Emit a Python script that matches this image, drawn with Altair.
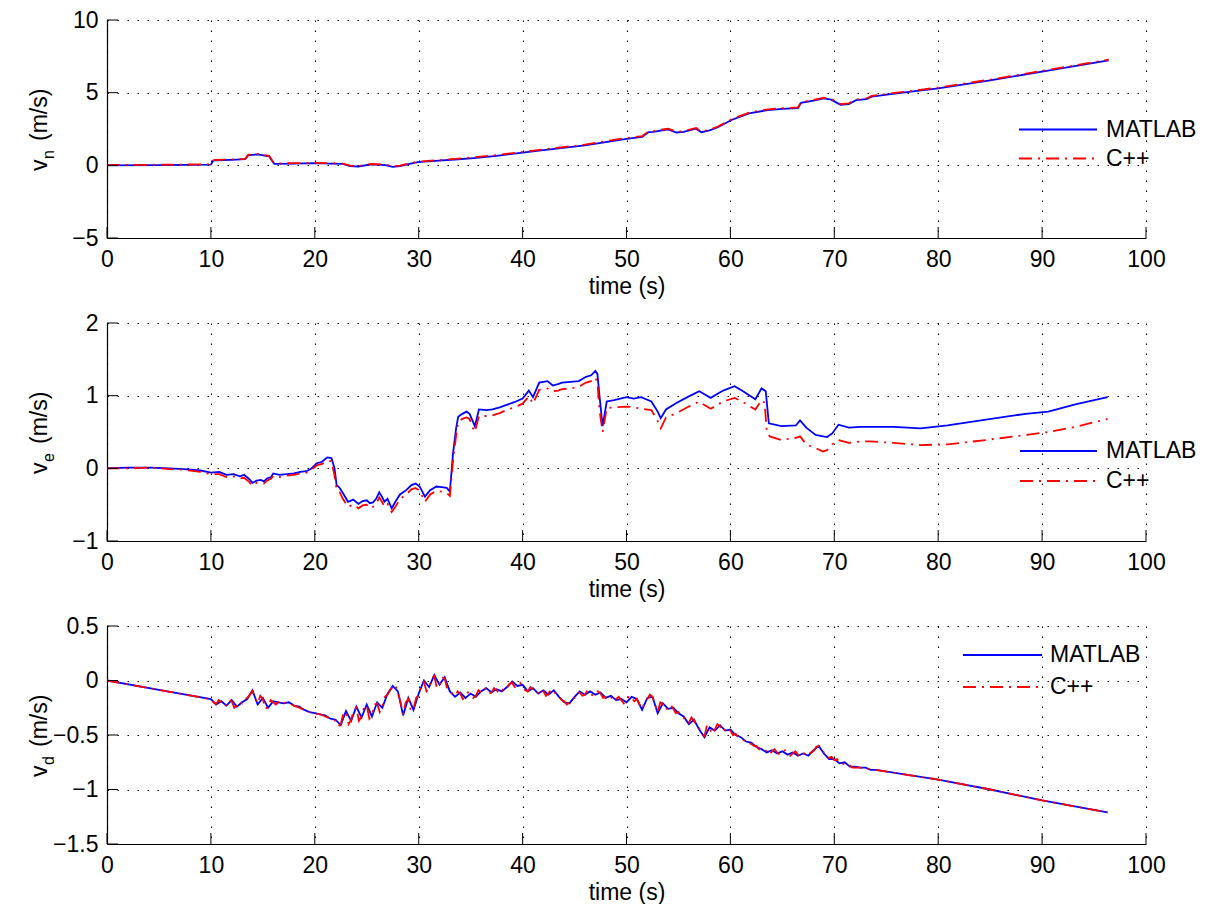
import altair as alt
import pandas as pd

# ---------------- data ----------------
X_TICKS = [0, 10, 20, 30, 40, 50, 60, 70, 80, 90, 100]

VN_TICKS = [-5, 0, 5, 10]
VE_TICKS = [-1, 0, 1, 2]
VD_TICKS = [-1.5, -1, -0.5, 0, 0.5]

vn_t = [0, 5, 10, 10.2, 10.4, 12, 13.3, 13.6, 14.5, 15.6, 15.9, 16.1, 18, 20, 21.5,
        22.7, 23.4, 24.2, 25.4, 26.8, 27.5, 28.2, 28.8, 29.9, 31.9, 33.5, 35.3, 37.5,
        40, 42, 43.9, 46, 48, 50, 51.5, 52.1, 52.6, 54, 54.8, 55.5, 56.7, 57.2, 58.0,
        58.8, 60.1, 61.8, 63.6, 65, 66.5, 66.8, 68, 69, 69.7, 70.6, 71.4, 72.1, 73.1,
        73.6, 76, 80, 85, 90, 96.4]
vn_matlab = [0.0, 0.02, 0.05, 0.3, 0.35, 0.38, 0.42, 0.7, 0.75, 0.62, 0.3, 0.1, 0.12,
             0.15, 0.12, 0.1, -0.05, -0.08, 0.06, 0.02, -0.1, -0.05, 0.05, 0.22, 0.32,
             0.4, 0.5, 0.65, 0.88, 1.05, 1.2, 1.38, 1.6, 1.82, 1.95, 2.28, 2.3, 2.48,
             2.26, 2.3, 2.52, 2.28, 2.4, 2.62, 3.12, 3.58, 3.8, 3.88, 3.93, 4.3, 4.45,
             4.6, 4.52, 4.16, 4.22, 4.48, 4.55, 4.73, 4.95, 5.3, 5.85, 6.45, 7.22]
vn_cpp = [0.02, 0.04, 0.07, 0.32, 0.38, 0.41, 0.45, 0.73, 0.78, 0.65, 0.33, 0.13, 0.15,
          0.17, 0.15, 0.12, -0.02, -0.05, 0.09, 0.05, -0.07, -0.02, 0.08, 0.26, 0.36,
          0.44, 0.55, 0.7, 0.93, 1.1, 1.25, 1.43, 1.66, 1.88, 2.01, 2.33, 2.36, 2.53,
          2.31, 2.35, 2.57, 2.33, 2.45, 2.67, 3.17, 3.63, 3.85, 3.93, 3.98, 4.35, 4.5,
          4.65, 4.57, 4.21, 4.27, 4.53, 4.6, 4.78, 5.0, 5.35, 5.9, 6.5, 7.27]

ve_matlab = [(0, 0.0), (2, 0.01), (4.2, 0.01), (6, 0.0), (7.4, -0.01), (9, -0.03),
             (10, -0.06), (10.8, -0.05), (11.5, -0.09), (12.2, -0.08), (12.8, -0.11),
             (13.2, -0.09), (13.7, -0.15), (14, -0.2), (14.4, -0.17), (14.8, -0.16),
             (15.1, -0.18), (15.4, -0.14), (15.8, -0.12), (16, -0.07), (16.6, -0.09),
             (17.3, -0.08), (18, -0.07), (18.6, -0.05), (19.2, -0.04), (19.6, -0.01),
             (20.2, 0.07), (20.7, 0.09), (21.2, 0.15), (21.6, 0.14), (21.9, 0.0),
             (22.1, -0.23), (22.4, -0.27), (22.7, -0.34), (23.2, -0.46), (23.7, -0.43),
             (24.2, -0.49), (24.6, -0.45), (25, -0.44), (25.3, -0.48), (25.6, -0.47),
             (25.9, -0.42), (26.2, -0.33), (26.5, -0.40), (26.7, -0.46), (27.0, -0.42),
             (27.4, -0.55), (27.8, -0.45), (28.2, -0.36), (28.8, -0.30), (29.3, -0.23),
             (29.7, -0.21), (30.1, -0.25), (30.6, -0.39), (31.1, -0.30), (31.7, -0.25),
             (32.2, -0.26), (32.7, -0.27), (33, -0.32), (33.3, 0.2), (33.6, 0.55),
             (33.8, 0.71), (34.2, 0.75), (34.6, 0.78), (34.9, 0.75), (35.2, 0.65),
             (35.4, 0.58), (35.8, 0.81), (36.5, 0.80), (37.1, 0.81), (37.8, 0.84),
             (38.4, 0.87), (39.2, 0.91), (40, 0.96), (40.6, 1.07), (41, 0.98),
             (41.6, 1.18), (42.4, 1.2), (42.9, 1.14), (43.4, 1.16), (43.8, 1.18),
             (44.6, 1.19), (45.4, 1.2), (46.1, 1.26), (46.6, 1.28), (47, 1.34),
             (47.2, 1.3), (47.4, 1.0), (47.7, 0.58), (48.1, 0.92), (48.8, 0.94),
             (50, 0.98), (50.7, 0.96), (51.4, 0.98), (52.4, 0.92), (53.0, 0.78),
             (53.3, 0.69), (53.8, 0.81), (54.8, 0.9), (56, 0.99), (57, 1.06),
             (57.5, 1.02), (58.1, 0.97), (59.3, 1.07), (60.4, 1.13), (61.1, 1.07),
             (62.4, 0.95), (63, 1.1), (63.4, 1.06), (63.7, 0.62), (64.9, 0.58),
             (66.3, 0.59), (66.7, 0.66), (67.3, 0.56), (68.2, 0.46), (69.3, 0.43),
             (69.8, 0.48), (70.4, 0.6), (71.4, 0.56), (72.5, 0.57), (73.4, 0.57),
             (75.7, 0.57), (78.3, 0.55), (80.9, 0.59), (84.6, 0.67), (88.4, 0.75),
             (90.6, 0.78), (93.2, 0.88), (96.3, 0.98)]
ve_cpp = [(0, 0.0), (2, 0.0), (4.2, 0.01), (6, -0.01), (7.4, -0.02), (9, -0.05),
          (10, -0.08), (10.8, -0.08), (11.5, -0.12), (12.2, -0.11), (12.8, -0.14),
          (13.2, -0.13), (13.7, -0.19), (14, -0.24), (14.4, -0.2), (14.8, -0.2),
          (15.1, -0.21), (15.4, -0.17), (15.8, -0.14), (16, -0.1), (16.6, -0.12),
          (17.3, -0.1), (18, -0.09), (18.6, -0.07), (19.2, -0.06), (19.6, -0.03),
          (20.2, 0.04), (20.7, 0.06), (21.2, 0.1), (21.6, 0.1), (21.9, -0.1),
          (22.1, -0.3), (22.4, -0.33), (22.7, -0.42), (23.2, -0.53), (23.7, -0.5),
          (24.2, -0.55), (24.6, -0.51), (25, -0.5), (25.3, -0.55), (25.6, -0.53),
          (25.9, -0.49), (26.2, -0.4), (26.5, -0.47), (26.7, -0.53), (27.0, -0.49),
          (27.4, -0.6), (27.8, -0.52), (28.2, -0.42), (28.8, -0.36), (29.3, -0.29),
          (29.7, -0.27), (30.1, -0.31), (30.6, -0.46), (31.1, -0.36), (31.7, -0.31),
          (32.2, -0.32), (32.7, -0.34), (33, -0.38), (33.3, 0.1), (33.6, 0.45),
          (33.8, 0.64), (34.2, 0.68), (34.6, 0.7), (34.9, 0.68), (35.2, 0.56),
          (35.4, 0.5), (35.8, 0.72), (36.5, 0.72), (37.1, 0.73), (37.8, 0.76),
          (38.4, 0.8), (39.2, 0.84), (40, 0.89), (40.6, 0.99), (41, 0.89),
          (41.6, 1.08), (42.4, 1.1), (42.9, 1.06), (43.4, 1.07), (43.8, 1.09),
          (44.6, 1.1), (45.4, 1.12), (46.1, 1.18), (46.6, 1.2), (47, 1.25),
          (47.2, 1.18), (47.4, 0.8), (47.7, 0.5), (48.1, 0.83), (48.8, 0.84),
          (50, 0.85), (50.7, 0.84), (51.4, 0.82), (52.4, 0.8), (53.0, 0.65),
          (53.3, 0.55), (53.8, 0.7), (54.8, 0.76), (56, 0.85), (57, 0.92),
          (57.5, 0.87), (58.1, 0.82), (59.3, 0.92), (60.4, 0.97), (61.1, 0.92),
          (62.4, 0.81), (63, 0.94), (63.3, 0.9), (63.5, 0.5), (63.8, 0.44),
          (64.9, 0.39), (66.3, 0.42), (66.7, 0.44), (67.3, 0.33), (68.2, 0.28),
          (68.9, 0.23), (69.3, 0.25), (69.8, 0.33), (70.4, 0.39), (71.4, 0.35),
          (72.5, 0.37), (73.4, 0.37), (75.7, 0.35), (78.3, 0.32), (80.9, 0.33),
          (84.6, 0.39), (88.4, 0.46), (90.6, 0.5), (93.2, 0.57), (96.3, 0.68)]

vd_matlab = [(0, 0.0), (5, -0.085), (10, -0.17), (10.5, -0.22), (11, -0.19), (11.5, -0.23),
             (12, -0.18), (12.5, -0.24), (13, -0.2), (13.5, -0.17), (14, -0.09), (14.5, -0.22),
             (15, -0.16), (15.5, -0.25), (16, -0.19), (16.5, -0.2), (17, -0.21), (17.5, -0.2),
             (18, -0.23), (18.5, -0.24), (19, -0.27), (19.5, -0.29), (20, -0.3), (20.5, -0.31),
             (21, -0.32), (21.5, -0.35), (22, -0.36), (22.5, -0.41), (23, -0.28), (23.5, -0.37),
             (24, -0.24), (24.5, -0.34), (25, -0.22), (25.5, -0.33), (26, -0.2), (26.5, -0.25),
             (27, -0.12), (27.5, -0.05), (28, -0.1), (28.5, -0.32), (29, -0.16), (29.5, -0.27),
             (30, -0.12), (30.5, 0.0), (31, -0.06), (31.5, 0.05), (32, -0.04), (32.5, 0.03),
             (33, -0.1), (33.5, -0.15), (34, -0.11), (34.5, -0.16), (35, -0.12), (35.5, -0.15),
             (36, -0.1), (36.5, -0.07), (37, -0.11), (37.5, -0.08), (38, -0.1), (38.5, -0.06),
             (39, -0.01), (39.5, -0.05), (40, -0.04), (40.5, -0.1), (41, -0.07), (41.5, -0.12),
             (42, -0.09), (42.5, -0.13), (43, -0.09), (43.5, -0.15), (44, -0.2), (44.5, -0.21),
             (45, -0.15), (45.5, -0.1), (46, -0.13), (46.5, -0.1), (47, -0.13), (47.5, -0.11),
             (48, -0.16), (48.5, -0.14), (49, -0.18), (49.5, -0.17), (50, -0.2), (50.5, -0.15),
             (51, -0.17), (51.5, -0.27), (52, -0.16), (52.5, -0.15), (53, -0.3), (53.5, -0.21),
             (54, -0.26), (54.5, -0.25), (55, -0.3), (55.5, -0.33), (56, -0.4), (56.5, -0.36),
             (57, -0.45), (57.5, -0.52), (58, -0.43), (58.5, -0.46), (59, -0.41), (59.5, -0.46),
             (60, -0.45), (60.5, -0.5), (61, -0.52), (61.5, -0.56), (62, -0.57), (62.5, -0.61),
             (63, -0.63), (63.5, -0.66), (64, -0.64), (64.5, -0.67), (65, -0.65), (65.5, -0.68),
             (66, -0.66), (66.5, -0.69), (67, -0.67), (67.5, -0.69), (68, -0.64), (68.5, -0.6),
             (69, -0.67), (69.5, -0.72), (70, -0.72), (70.5, -0.76), (71, -0.75), (71.5, -0.79),
             (72, -0.79), (72.5, -0.8), (73, -0.8), (73.5, -0.82), (74, -0.82), (80, -0.91),
             (85, -1.0), (90, -1.1), (96.3, -1.21)]
vd_cpp = [(0, 0.0), (5, -0.087), (10, -0.172), (10.25, -0.2), (10.5, -0.215), (10.75, -0.18),
          (11, -0.2), (11.25, -0.24), (11.5, -0.22), (11.75, -0.18), (12, -0.19), (12.25, -0.25),
          (12.5, -0.23), (12.75, -0.19), (13, -0.21), (13.25, -0.17), (13.5, -0.16),
          (13.75, -0.13), (14, -0.1), (14.25, -0.16), (14.5, -0.21), (14.75, -0.14),
          (15, -0.17), (15.25, -0.26), (15.5, -0.24), (15.75, -0.18), (16, -0.2),
          (16.25, -0.22), (16.5, -0.2), (16.75, -0.19), (17, -0.21), (17.25, -0.2),
          (17.5, -0.21), (17.75, -0.22), (18, -0.23), (18.25, -0.24), (18.5, -0.25),
          (18.75, -0.26), (19, -0.27), (19.25, -0.29), (19.5, -0.29), (19.75, -0.3),
          (20, -0.3), (20.5, -0.31), (21, -0.33), (21.5, -0.35), (22, -0.37), (22.25, -0.42),
          (22.5, -0.4), (22.75, -0.3), (23, -0.29), (23.25, -0.4), (23.5, -0.36), (23.75, -0.27),
          (24, -0.25), (24.25, -0.37), (24.5, -0.33), (24.75, -0.24), (25, -0.23),
          (25.25, -0.35), (25.5, -0.32), (25.75, -0.22), (26, -0.21), (26.25, -0.29),
          (26.5, -0.24), (26.75, -0.15), (27, -0.13), (27.25, -0.09), (27.5, -0.06),
          (27.75, -0.04), (28, -0.11), (28.25, -0.2), (28.5, -0.31), (28.75, -0.2),
          (29, -0.17), (29.25, -0.28), (29.5, -0.26), (29.75, -0.16), (30, -0.13),
          (30.25, -0.05), (30.5, -0.01), (30.75, -0.1), (31, -0.07), (31.25, 0.02),
          (31.5, 0.04), (31.75, -0.07), (32, -0.05), (32.25, 0.03), (32.5, 0.02),
          (32.75, -0.08), (33, -0.1), (33.25, -0.12), (33.5, -0.14), (33.75, -0.1),
          (34, -0.12), (34.25, -0.17), (34.5, -0.15), (34.75, -0.11), (35, -0.13),
          (35.25, -0.16), (35.5, -0.14), (35.75, -0.09), (36, -0.11), (36.25, -0.07),
          (36.5, -0.08), (36.75, -0.12), (37, -0.11), (37.25, -0.07), (37.5, -0.09),
          (37.75, -0.12), (38, -0.1), (38.25, -0.06), (38.5, -0.07), (38.75, -0.03),
          (39, -0.02), (39.25, -0.06), (39.5, -0.05), (39.75, -0.02), (40, -0.05),
          (40.25, -0.09), (40.5, -0.1), (40.75, -0.06), (41, -0.08), (41.25, -0.12),
          (41.5, -0.11), (41.75, -0.08), (42, -0.1), (42.25, -0.14), (42.5, -0.12),
          (42.75, -0.08), (43, -0.1), (43.25, -0.13), (43.5, -0.14), (43.75, -0.18),
          (44, -0.19), (44.25, -0.22), (44.5, -0.2), (44.75, -0.17), (45, -0.16),
          (45.25, -0.12), (45.5, -0.11), (45.75, -0.14), (46, -0.13), (46.25, -0.09),
          (46.5, -0.11), (46.75, -0.14), (47, -0.13), (47.25, -0.1), (47.5, -0.12),
          (47.75, -0.16), (48, -0.15), (48.25, -0.13), (48.5, -0.15), (48.75, -0.19),
          (49, -0.17), (49.25, -0.15), (49.5, -0.18), (49.75, -0.21), (50, -0.19),
          (50.25, -0.14), (50.5, -0.16), (50.75, -0.19), (51, -0.17), (51.25, -0.22),
          (51.5, -0.26), (51.75, -0.2), (52, -0.17), (52.25, -0.13), (52.5, -0.15),
          (52.75, -0.22), (53, -0.29), (53.25, -0.2), (53.5, -0.22), (53.75, -0.27),
          (54, -0.25), (54.25, -0.22), (54.5, -0.26), (54.75, -0.3), (55, -0.29),
          (55.25, -0.31), (55.5, -0.34), (55.75, -0.38), (56, -0.39), (56.25, -0.34),
          (56.5, -0.37), (56.75, -0.42), (57, -0.44), (57.25, -0.49), (57.5, -0.51),
          (57.75, -0.41), (58, -0.44), (58.25, -0.49), (58.5, -0.45), (58.75, -0.4),
          (59, -0.42), (59.25, -0.47), (59.5, -0.45), (59.75, -0.43), (60, -0.46),
          (60.25, -0.5), (60.5, -0.49), (60.75, -0.52), (61, -0.53), (61.25, -0.55),
          (61.5, -0.55), (61.75, -0.58), (62, -0.58), (62.25, -0.6), (62.5, -0.6),
          (62.75, -0.63), (63, -0.64), (63.25, -0.63), (63.5, -0.65), (63.75, -0.68),
          (64, -0.65), (64.25, -0.63), (64.5, -0.66), (64.75, -0.68), (65, -0.66),
          (65.25, -0.64), (65.5, -0.67), (65.75, -0.69), (66, -0.67), (66.25, -0.65),
          (66.5, -0.68), (66.75, -0.7), (67, -0.68), (67.25, -0.66), (67.5, -0.68),
          (67.75, -0.66), (68, -0.65), (68.25, -0.61), (68.5, -0.6), (68.75, -0.63),
          (69, -0.66), (69.25, -0.69), (69.5, -0.71), (69.75, -0.7), (70, -0.73),
          (70.25, -0.72), (70.5, -0.75), (70.75, -0.77), (71, -0.76), (71.25, -0.76),
          (71.5, -0.78), (71.75, -0.8), (72, -0.8), (72.5, -0.8), (73, -0.81), (73.5, -0.81),
          (74, -0.82), (80, -0.91), (85, -1.0), (90, -1.1), (96.3, -1.21)]

SERIES = ["MATLAB", "C++"]
XTITLE = "time (s)"

# ---------------- style / layout ----------------
W, H = 1039, 218
FONT = "Liberation Sans"
FS = 23
BLUE = "#0000ff"
RED = "#ff0000"
DASH = [13, 6, 2, 6]
LW = 1.8


def one():
    return pd.DataFrame({"a": [0]})


def panel(df_m, df_c, ydom, yticks, sub, leg, anchor=False):
    xs = alt.Scale(domain=[0, 100], nice=False, zero=False)
    ys = alt.Scale(domain=ydom, nice=False, zero=False)
    xax = alt.Axis(values=X_TICKS, title=XTITLE, grid=True, ticks=False, tickSize=0,
                   labelPadding=10, titlePadding=4, format="~r", labelFlush=False,
                   labelOverlap=False)
    yax = alt.Axis(values=yticks, title=None, grid=True, ticks=False, tickSize=0,
                   labelPadding=9, format="~r", labelFlush=False, labelOverlap=False)
    X = alt.X("t:Q", scale=xs, axis=xax)
    Y = alt.Y("v:Q", scale=ys, axis=yax)

    m_line = alt.Chart(df_m).mark_line(color=BLUE, strokeWidth=LW, clip=True).encode(x=X, y=Y)
    c_line = alt.Chart(df_c).mark_line(color=RED, strokeWidth=LW, strokeDash=DASH,
                                       clip=True).encode(x=X, y=Y)
    xt = alt.Chart(pd.DataFrame({"t": X_TICKS})).mark_rule(
        color="black", strokeWidth=1).encode(x=X, y=alt.value(H), y2=alt.value(H - 11))
    yt = alt.Chart(pd.DataFrame({"v": yticks})).mark_rule(
        color="black", strokeWidth=1).encode(y=Y, x=alt.value(0), x2=alt.value(11))

    # y title with subscript
    tx = -60.5
    t_v = alt.Chart(one()).mark_text(text="v", font=FONT, fontSize=FS, angle=270,
                                     align="left", baseline="alphabetic").encode(
        x=alt.value(tx), y=alt.value(151))
    t_s = alt.Chart(one()).mark_text(text=sub, font=FONT, fontSize=16, angle=270,
                                     align="left", baseline="alphabetic").encode(
        x=alt.value(tx + 7.5), y=alt.value(139))
    t_u = alt.Chart(one()).mark_text(text="(m/s)", font=FONT, fontSize=FS, angle=270,
                                     align="left", baseline="alphabetic").encode(
        x=alt.value(tx), y=alt.value(121))

    # legend
    lx1, lx2, tx_leg, ly1, ly2 = leg
    lg_m = alt.Chart(one()).mark_rule(color=BLUE, strokeWidth=LW).encode(
        x=alt.value(lx1), x2=alt.value(lx2), y=alt.value(ly1), y2=alt.value(ly1))
    lg_c = alt.Chart(one()).mark_rule(color=RED, strokeWidth=LW, strokeDash=DASH).encode(
        x=alt.value(lx1), x2=alt.value(lx2), y=alt.value(ly2), y2=alt.value(ly2))
    lt_m = alt.Chart(one()).mark_text(text=SERIES[0], font=FONT, fontSize=FS, align="left",
                                      baseline="middle").encode(
        x=alt.value(tx_leg), y=alt.value(ly1))
    lt_c = alt.Chart(one()).mark_text(text=SERIES[1], font=FONT, fontSize=FS, align="left",
                                      baseline="middle").encode(
        x=alt.value(tx_leg), y=alt.value(ly2))

    layers = [m_line, c_line, xt, yt, t_v, t_s, t_u, lg_m, lg_c, lt_m, lt_c]
    if anchor:
        layers.append(alt.Chart(one()).mark_rule(opacity=0, strokeWidth=1).encode(
            x=alt.value(-107), x2=alt.value(-106), y=alt.value(-20), y2=alt.value(-19)))
    return alt.layer(*layers).properties(width=W, height=H)


df1m = pd.DataFrame({"t": vn_t, "v": vn_matlab})
df1c = pd.DataFrame({"t": vn_t, "v": vn_cpp})
df2m = pd.DataFrame(ve_matlab, columns=["t", "v"])
df2c = pd.DataFrame(ve_cpp, columns=["t", "v"])
df3m = pd.DataFrame(vd_matlab, columns=["t", "v"])
df3c = pd.DataFrame(vd_cpp, columns=["t", "v"])

p1 = panel(df1m, df1c, [-5, 10], VN_TICKS, "n", (912, 990, 999, 109.5, 138.5), anchor=True)
p2 = panel(df2m, df2c, [-1, 2], VE_TICKS, "e", (913, 990, 999, 128, 158))
p3 = panel(df3m, df3c, [-1.5, 0.5], VD_TICKS, "d", (856, 935, 943, 29, 61))

chart = alt.vconcat(p1, p2, p3, spacing=85, bounds="flush").properties(
    padding=0, background="white"
).configure_view(stroke=None).configure_axis(
    domainColor="black", domainWidth=1.2,
    gridColor="black", gridOpacity=1, gridWidth=1.1, gridDash=[1.5, 8.5],
    labelFont=FONT, labelFontSize=FS, labelColor="black",
    titleFont=FONT, titleFontSize=FS, titleColor="black", titleFontWeight="normal",
)

chart.save("out.html", embed_options={"renderer": "svg", "actions": False})
